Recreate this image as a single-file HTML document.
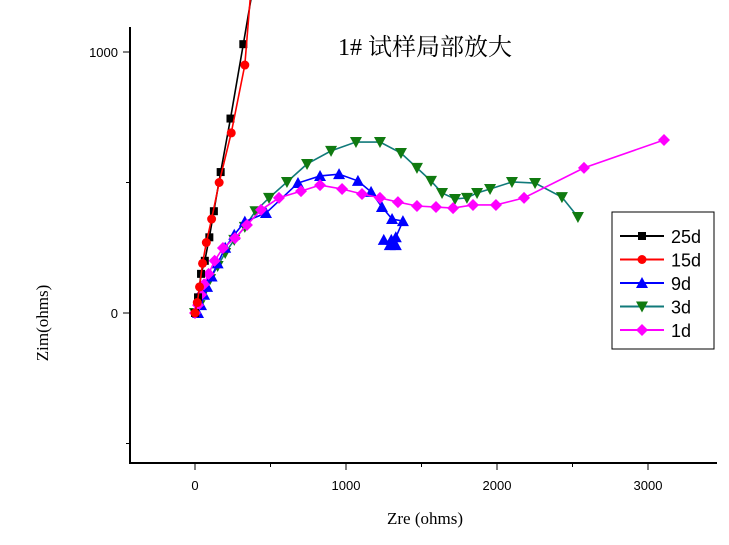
<!DOCTYPE html>
<html><head><meta charset="utf-8"><style>
body{margin:0;background:#fff;}
svg{display:block;}
text{font-family:"Liberation Sans",sans-serif;}
</style></head><body>
<svg id="chart" width="729" height="545"></svg>
<script>
const xTicks=[0,1000,2000,3000];
const xMinor=[500,1500,2500];
const yTicks=[0,1000];
const yMinor=[-500,500];
const seriesNames=["25d","15d","9d","3d","1d"];
const s25x=[0,20,40,65,95,125,170,235,320,370];
const s25y=[0,60,150,200,290,390,540,745,1030,1200];
const s15x=[0,15,30,50,75,110,160,240,330,365];
const s15y=[0,40,100,190,270,360,500,690,950,1200];
const s9x=[20,40,60,80,110,150,200,260,330,470,682,828,954,1079,1166,1238,1305,1377,1330,1290,1250,1330,1300];
const s9y=[0,30,70,100,140,190,250,300,350,383,498,525,532,506,464,406,360,352,290,260,280,260,280];
const s3x=[0,30,60,100,150,200,260,330,400,490,609,742,901,1066,1225,1364,1470,1563,1636,1722,1801,1868,1954,2099,2252,2430,2536];
const s3y=[0,30,80,130,180,230,280,330,390,441,502,571,621,655,655,613,556,506,460,437,441,460,475,502,498,444,368];
const s1x=[0,20,40,60,90,130,185,265,344,437,556,702,828,974,1106,1225,1344,1470,1596,1709,1841,1993,2179,2576,3106];
const s1y=[0,30,70,110,150,200,249,287,337,395,441,467,490,475,456,441,425,410,406,402,414,414,441,556,663];
const NS="http://www.w3.org/2000/svg";
const svg=document.getElementById('chart');
const X=v=>195+v*0.151;
const Y=v=>313-v*0.261;
function el(t,a,p){const e=document.createElementNS(NS,t);for(const k in a)e.setAttribute(k,a[k]);(p||svg).appendChild(e);return e;}
const defs=el('defs',{});const cp=el('clipPath',{id:'clip'},defs);el('rect',{x:131,y:0,width:600,height:462},cp);
const ax=el('path',{d:'M130,27 V463 H717',fill:'none',stroke:'#000','stroke-width':2});

xTicks.forEach(v=>{el('line',{x1:X(v),x2:X(v),y1:463,y2:470,stroke:'#000'});
 const t=el('text',{x:X(v),y:490,'font-size':13,'text-anchor':'middle'});t.textContent=v;
 });
xMinor.forEach(v=>el('line',{x1:X(v),x2:X(v),y1:463,y2:467,stroke:'#000'}));
yTicks.forEach(v=>{el('line',{x1:123,x2:130,y1:Y(v),y2:Y(v),stroke:'#000'});
 const t=el('text',{x:118,y:Y(v)+5,'font-size':13,'text-anchor':'end'});t.textContent=v;
 });
yMinor.forEach(v=>el('line',{x1:126,x2:130,y1:Y(v),y2:Y(v),stroke:'#000'}));
const tt=el('text',{x:425,y:55,'font-size':24,'text-anchor':'middle',style:'font-family:"Liberation Serif","Noto Serif CJK SC",serif'});tt.textContent='1# 试样局部放大';

const xt=el('text',{x:425,y:524,'font-size':17,'text-anchor':'middle',style:'font-family:"Liberation Serif",serif'});xt.textContent='Zre (ohms)';

const yt=el('text',{x:0,y:0,'font-size':17,'text-anchor':'middle',transform:'translate(48,323) rotate(-90)',style:'font-family:"Liberation Serif",serif'});yt.textContent='Zim(ohms)';

function marker(g,type,cx,cy,color){
 if(type==='sq')el('rect',{x:cx-4,y:cy-4,width:8,height:8,fill:color},g);
 else if(type==='ci')el('circle',{cx:cx,cy:cy,r:4.5,fill:color},g);
 else if(type==='up')el('path',{d:`M${cx},${cy-6}L${cx+6},${cy+5}L${cx-6},${cy+5}Z`,fill:color},g);
 else if(type==='dn')el('path',{d:`M${cx},${cy+6}L${cx+6},${cy-5}L${cx-6},${cy-5}Z`,fill:color},g);
 else el('path',{d:`M${cx},${cy-6}L${cx+6},${cy}L${cx},${cy+6}L${cx-6},${cy}Z`,fill:color},g);
}
const series=[[s3x,s3y,'#107a7a','#107a10','dn'],[s9x,s9y,'#0000ff','#0000ff','up'],[s1x,s1y,'#ff00ff','#ff00ff','di'],[s25x,s25y,'#000','#000','sq'],[s15x,s15y,'#ff0000','#ff0000','ci']];
const nameOf={dn:'3d',up:'9d',di:'1d',sq:'25d',ci:'15d'};
series.forEach(([xs,ys,lc,mc,m])=>{
 const g=el('g',{'clip-path':'url(#clip)'});
 
 el('polyline',{points:xs.map((x,i)=>X(x)+','+Y(ys[i])).join(' '),fill:'none',stroke:lc,'stroke-width':1.6},g);
 const n=(m==='sq'||m==='ci')?xs.length-1:xs.length;
 for(let i=0;i<n;i++)marker(g,m,X(xs[i]),Y(ys[i]),mc);
});
const lg=el('g',{});
el('rect',{x:612,y:212,width:102,height:137,fill:'#fff',stroke:'#000'},lg);
const lm=[['#000','#000','sq'],['#ff0000','#ff0000','ci'],['#0000ff','#0000ff','up'],['#107a7a','#107a10','dn'],['#ff00ff','#ff00ff','di']];
seriesNames.forEach((nm,i)=>{const y=236+i*23.5;
 const e=el('g',{},lg);
 el('line',{x1:620,x2:664,y1:y,y2:y,stroke:lm[i][0],'stroke-width':2},e);
 marker(e,lm[i][2],642,y,lm[i][1]);
 const t=el('text',{x:671,y:y+7,'font-size':18},e);t.textContent=nm;});
</script>
</body></html>
